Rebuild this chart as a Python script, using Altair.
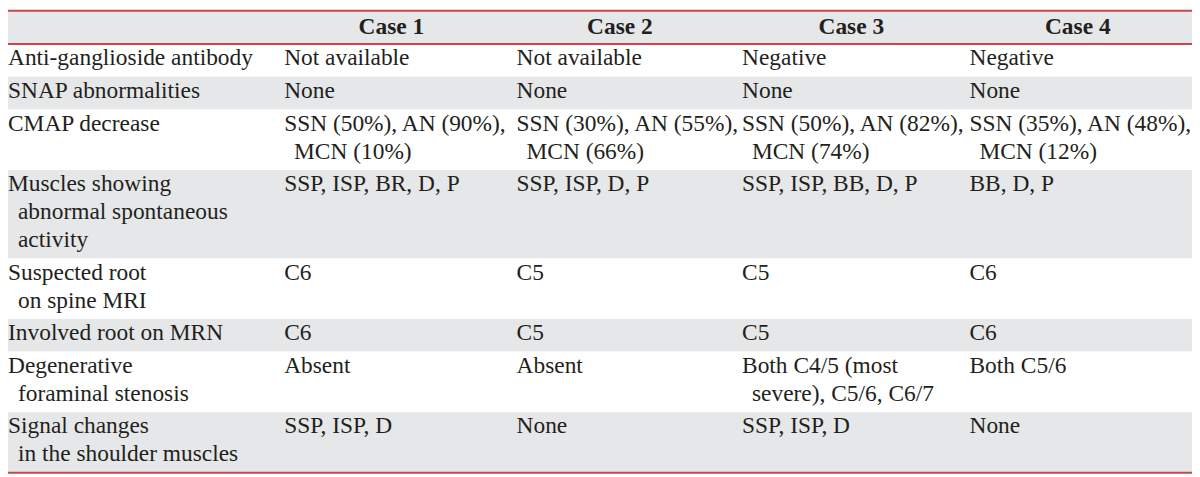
import altair as alt
import pandas as pd

# ---------------- data ----------------
header = ["", "Case 1", "Case 2", "Case 3", "Case 4"]

row_labels = [
    ["Anti-ganglioside antibody"],
    ["SNAP abnormalities"],
    ["CMAP decrease"],
    ["Muscles showing", "abnormal spontaneous", "activity"],
    ["Suspected root", "on spine MRI"],
    ["Involved root on MRN"],
    ["Degenerative", "foraminal stenosis"],
    ["Signal changes", "in the shoulder muscles"],
]
case1 = [
    ["Not available"], ["None"], ["SSN (50%), AN (90%),", "MCN (10%)"],
    ["SSP, ISP, BR, D, P"], ["C6"], ["C6"], ["Absent"], ["SSP, ISP, D"],
]
case2 = [
    ["Not available"], ["None"], ["SSN (30%), AN (55%),", "MCN (66%)"],
    ["SSP, ISP, D, P"], ["C5"], ["C5"], ["Absent"], ["None"],
]
case3 = [
    ["Negative"], ["None"], ["SSN (50%), AN (82%),", "MCN (74%)"],
    ["SSP, ISP, BB, D, P"], ["C5"], ["C5"], ["Both C4/5 (most", "severe), C5/6, C6/7"],
    ["SSP, ISP, D"],
]
case4 = [
    ["Negative"], ["None"], ["SSN (35%), AN (48%),", "MCN (12%)"],
    ["BB, D, P"], ["C6"], ["C6"], ["Both C5/6"], ["None"],
]
columns = [row_labels, case1, case2, case3, case4]

# ---------------- layout (reference pixel units) ----------------
W, H = 1189, 467
X_DOM = [5, 1197]
Y_DOM = [4, 474]
TABLE_LEFT, TABLE_RIGHT = 5, 1197
TOP_LINE = 5.7
HEADER_BOTTOM = 39.5
ROW_BASE = 33.0
LINE_STEP = 28.2
FIRST_BASELINE = 21.5
HEADER_BASELINE = 29.5
INDENT = 10
col_left = [5, 283, 517, 744, 973]
col_center = [None, 391, 621, 854, 1082]
GREY = "#e6e7e8"
RED = "#c8464f"
INK = "#231f20"
FONT = "Liberation Serif"
FS = 23.5

n_lines = [max(len(c[i]) for c in columns) for i in range(len(row_labels))]

bands, texts = [], []
bands.append({"x": TABLE_LEFT, "x2": TABLE_RIGHT, "y": TOP_LINE, "y2": HEADER_BOTTOM, "fill": GREY})
top = HEADER_BOTTOM
row_tops = []
for i, n in enumerate(n_lines):
    h = ROW_BASE + LINE_STEP * (n - 1)
    row_tops.append(top)
    bands.append({"x": TABLE_LEFT, "x2": TABLE_RIGHT, "y": top, "y2": top + h,
                  "fill": GREY if i % 2 == 1 else "#ffffff"})
    top += h
bottom = top

for ci, col in enumerate(columns):
    for ri, cell in enumerate(col):
        for li, line in enumerate(cell):
            texts.append({
                "text": line,
                "x": col_left[ci] + (INDENT if li > 0 else 0),
                "y": row_tops[ri] + FIRST_BASELINE + LINE_STEP * li,
            })

heads = [{"text": header[i], "x": col_center[i], "y": HEADER_BASELINE} for i in range(1, 5)]

rules = [{"x": TABLE_LEFT, "x2": TABLE_RIGHT, "y": v} for v in (TOP_LINE, HEADER_BOTTOM, bottom)]

xs = alt.Scale(domain=X_DOM, range=[0, W], nice=False, zero=False)
ys = alt.Scale(domain=Y_DOM, range=[0, H], nice=False, zero=False)

band_chart = alt.Chart(pd.DataFrame(bands)).mark_rect().encode(
    x=alt.X("x:Q", scale=xs, axis=None),
    x2="x2:Q",
    y=alt.Y("y:Q", scale=ys, axis=None),
    y2="y2:Q",
    fill=alt.Fill("fill:N", scale=None),
)

rule_chart = alt.Chart(pd.DataFrame(rules)).mark_rule(color=RED, strokeWidth=2).encode(
    x=alt.X("x:Q", scale=xs, axis=None),
    x2="x2:Q",
    y=alt.Y("y:Q", scale=ys, axis=None),
)

text_chart = alt.Chart(pd.DataFrame(texts)).mark_text(
    align="left", baseline="alphabetic", font=FONT, fontSize=FS, color=INK
).encode(
    x=alt.X("x:Q", scale=xs, axis=None),
    y=alt.Y("y:Q", scale=ys, axis=None),
    text="text:N",
)

head_chart = alt.Chart(pd.DataFrame(heads)).mark_text(
    align="center", baseline="alphabetic", font=FONT, fontSize=FS, fontWeight="bold", color=INK
).encode(
    x=alt.X("x:Q", scale=xs, axis=None),
    y=alt.Y("y:Q", scale=ys, axis=None),
    text="text:N",
)

chart = alt.layer(band_chart, rule_chart, text_chart, head_chart).properties(
    width=W, height=H, padding=0, autosize="none", background="#ffffff"
).configure_view(stroke=None)

chart.save("out.html", embed_options={"renderer": "svg", "actions": False})
